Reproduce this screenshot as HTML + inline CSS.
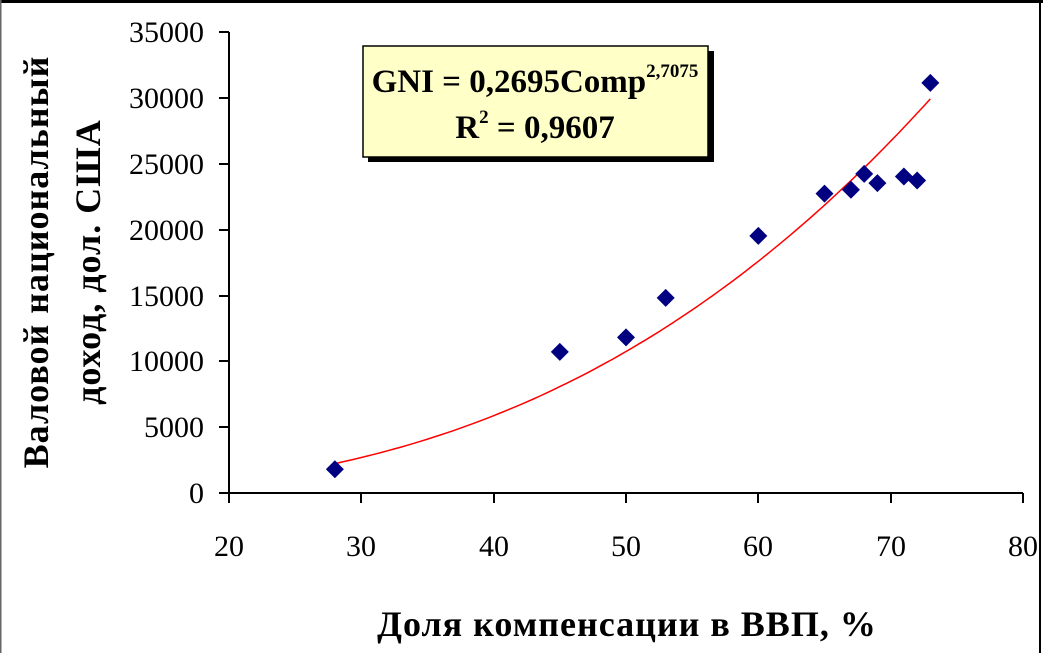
<!DOCTYPE html>
<html><head><meta charset="utf-8"><style>
html,body{margin:0;padding:0;background:#fff}
svg{display:block}
text{font-family:"Liberation Serif",serif}
</style></head><body>
<svg width="1043" height="653" viewBox="0 0 1043 653" xmlns="http://www.w3.org/2000/svg">
<rect x="0" y="0" width="1043" height="653" fill="#fff"/>
<rect x="0" y="0" width="1043" height="3" fill="#000"/>
<rect x="0" y="0" width="1.5" height="653" fill="#666"/>
<rect x="1039" y="0" width="2" height="653" fill="#000"/>
<g stroke="#000" stroke-width="2" fill="none">
<line x1="229" y1="32" x2="229" y2="494"/>
<line x1="229" y1="493" x2="1023" y2="493"/>
<path d="M219 32H229M219 98H229M219 164H229M219 230H229M219 296H229M219 361H229M219 427H229M219 493H229"/>
<path d="M229 493V503M361 493V503M494 493V503M626 493V503M758 493V503M891 493V503M1023 493V503"/>
</g>
<g font-size="30" text-anchor="end" fill="#000">
<text x="204" y="42">35000</text><text x="204" y="108">30000</text><text x="204" y="174">25000</text>
<text x="204" y="240">20000</text><text x="204" y="306">15000</text><text x="204" y="371">10000</text>
<text x="204" y="437">5000</text><text x="204" y="503">0</text>
</g>
<g font-size="30" text-anchor="middle" fill="#000">
<text x="229" y="556">20</text><text x="361" y="556">30</text><text x="494" y="556">40</text>
<text x="626" y="556">50</text><text x="758" y="556">60</text><text x="891" y="556">70</text><text x="1023" y="556">80</text>
</g>
<text x="627" y="636" font-size="36" font-weight="bold" text-anchor="middle" letter-spacing="1">Доля компенсации в ВВП, %</text>
<text transform="translate(48,262) rotate(-90)" font-size="36" font-weight="bold" text-anchor="middle" letter-spacing="1">Валовой национальный</text>
<text transform="translate(100,262) rotate(-90)" font-size="36" font-weight="bold" text-anchor="middle" letter-spacing="1">доход, дол. США</text>
<polyline id="c" fill="none" stroke="#ff0000" stroke-width="1.5" points=""/>
<g id="pts" fill="#000080"></g>
<rect x="368" y="51" width="346" height="111" fill="#000"/>
<rect x="363" y="46" width="345" height="111" fill="#ffffc8" stroke="#000" stroke-width="1.5"/>
<text x="535" y="92" font-size="33" font-weight="bold" text-anchor="middle">GNI = 0,2695Comp<tspan font-size="19" dy="-15">2,7075</tspan></text>
<text x="535" y="138" font-size="33" font-weight="bold" text-anchor="middle">R<tspan font-size="19" dy="-15">2</tspan><tspan dy="15"> = 0,9607</tspan></text>
</svg>
<script>
var X=function(v){return 229+(v-20)*13.233},Y=function(v){return 493-v*0.013186};
var p=[];for(var x=28;x<=73.01;x+=0.5){p.push(X(x).toFixed(1)+","+Y(0.2695*Math.pow(x,2.7075)).toFixed(1));}
document.getElementById("c").setAttribute("points",p.join(" "));
var d=[[28,1800],[45,10700],[50,11800],[53,14800],[60,19500],[65,22700],[67,23000],[68,24200],[69,23500],[71,24000],[72,23700],[73,31100]];
var g=document.getElementById("pts"),s="";
d.forEach(function(q){var cx=X(q[0]),cy=Y(q[1]);s+='<path d="M'+cx+' '+(cy-9)+'L'+(cx+9)+' '+cy+'L'+cx+' '+(cy+9)+'L'+(cx-9)+' '+cy+'Z"/>';});
g.innerHTML=s;
</script>
</body></html>
